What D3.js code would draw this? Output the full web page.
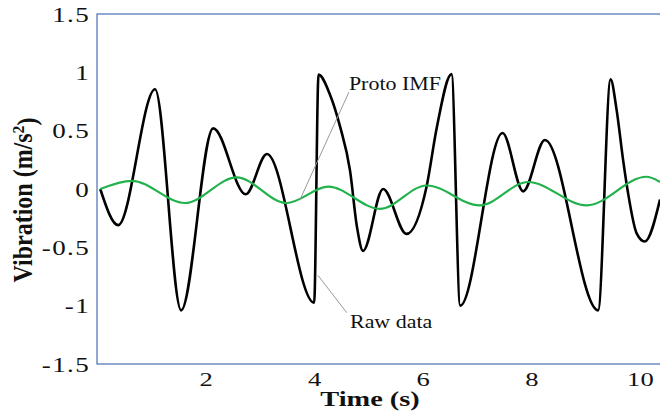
<!DOCTYPE html>
<html lang="en">
<head>
  <meta charset="UTF-8">
  <title>Raw data and proto IMF</title>
  <script src="https://d3js.org/d3.v7.min.js"></script>
  <style>
    body { margin: 0; background: #fff; }
    text { font-family: "Liberation Serif", "Times New Roman", serif; fill: #111; }
  </style>
</head>
<body>
  <div id="chart"></div>
  <script>
    const width = 660;
    const height = 419;

    // raw vibration signal (time in s, value in m/s^2)
    const rawTime  = [0.06, 0.39, 1.07, 1.55, 2.14, 2.74, 3.13, 4.00, 4.08, 4.29, 4.48, 4.66, 4.79, 4.90,
                      5.27, 5.70, 6.07, 6.26, 6.53, 6.69, 7.47, 7.85, 8.25, 9.23, 9.46, 9.57, 9.69, 9.78,
                      9.94, 10.09, 10.37];
    const rawValue = [0, -0.31, 0.855, -1.04, 0.52, -0.045, 0.30, -0.975, 0.98, 0.81, 0.53, 0.16, -0.33, -0.53,
                      0.0, -0.385, 0.02, 0.53, 0.985, -1.0, 0.48, -0.02, 0.42, -1.04, 0.94, 0.68, 0.25, -0.03,
                      -0.38, -0.45, -0.09];

    // proto IMF (green)
    const imfTime  = [0.06, 0.64, 1.62, 2.57, 3.49, 4.26, 5.21, 6.07, 7.05, 7.94, 9.02, 10.12, 10.37];
    const imfValue = [0.0, 0.07, -0.12, 0.10, -0.12, 0.02, -0.17, 0.03, -0.14, 0.06, -0.14, 0.105, 0.06];

    const xTicks = [2, 4, 6, 8, 10];
    const yTicks = [-1.5, -1, -0.5, 0, 0.5, 1, 1.5];

    const x = d3.scaleLinear().domain([0, 10.37]).range([97, 660]);
    const y = d3.scaleLinear().domain([-1.5, 1.5]).range([364, 14]);

    const svg = d3.select("#chart").append("svg")
      .attr("width", width).attr("height", height);

    svg.append("clipPath").attr("id", "plot")
      .append("rect").attr("x", 97).attr("y", 14).attr("width", 563).attr("height", 350);

    // frame (right side falls outside the window)
    svg.append("rect")
      .attr("x", x(0)).attr("y", y(1.5))
      .attr("width", 580).attr("height", y(-1.5) - y(1.5))
      .attr("fill", "none").attr("stroke", "#4a6fb5").attr("stroke-width", 1.2);

    // axes
    const sx = 1.35;
    const yAxis = svg.append("g").attr("transform", `translate(${x(0)},0)`)
      .call(d3.axisLeft(y).tickValues(yTicks).tickSize(0).tickPadding(0)
        .tickFormat(d => String(d)));
    yAxis.select(".domain").remove();
    yAxis.selectAll("text")
      .attr("x", -7 / sx).attr("dy", "0.35em")
      .attr("transform", `scale(${sx},1)`)
      .style("letter-spacing", "1px")
      .style("font-size", "20px").style("font-family", "Liberation Serif");

    const xAxis = svg.append("g").attr("transform", `translate(0,${y(-1.5)})`)
      .call(d3.axisBottom(x).tickValues(xTicks).tickSize(0).tickPadding(9));
    xAxis.select(".domain").remove();
    xAxis.selectAll("text")
      .attr("transform", `scale(1.4,1)`)
      .style("font-size", "19px").style("font-family", "Liberation Serif");

    // axis titles
    svg.append("text")
      .attr("transform", "translate(370,406) scale(1.35,1)")
      .attr("text-anchor", "middle")
      .style("font-size", "21px").style("font-weight", "bold")
      .text("Time (s)");

    const yt = svg.append("text")
      .attr("transform", "translate(32,200) rotate(-90) scale(1.2,1.35)")
      .attr("text-anchor", "middle")
      .style("font-size", "20px").style("font-weight", "bold");
    yt.append("tspan").text("Vibration (m/s");
    yt.append("tspan").attr("dy", "-0.45em").style("font-size", "13px").text("2");
    yt.append("tspan").attr("dy", "0.45em").text(")");

    // curves
    const line = d3.line().curve(d3.curveMonotoneX)
      .x(d => x(d[0])).y(d => y(d[1]));

    const plot = svg.append("g").attr("clip-path", "url(#plot)");
    plot.append("path")
      .datum(rawTime.map((t, i) => [t, rawValue[i]]))
      .attr("d", line)
      .attr("fill", "none").attr("stroke", "#000").attr("stroke-width", 2.6);
    plot.append("path")
      .datum(imfTime.map((t, i) => [t, imfValue[i]]))
      .attr("d", line)
      .attr("fill", "none").attr("stroke", "#22b24c").attr("stroke-width", 2.2);

    // annotations with leader lines
    svg.append("line")
      .attr("x1", x(4.64)).attr("y1", y(0.83)).attr("x2", x(3.74)).attr("y2", y(-0.09))
      .attr("stroke", "#999").attr("stroke-width", 1);
    svg.append("line")
      .attr("x1", x(4.07)).attr("y1", y(-0.74)).attr("x2", x(4.60)).attr("y2", y(-1.06))
      .attr("stroke", "#999").attr("stroke-width", 1);

    svg.append("text")
      .attr("transform", `translate(${x(4.64)},${y(0.845)}) scale(1.22,1)`)
      .style("font-size", "18px").text("Proto IMF");
    svg.append("text")
      .attr("transform", `translate(${x(4.66)},${y(-1.195)}) scale(1.22,1)`)
      .style("font-size", "18px").text("Raw data");
  </script>
</body>
</html>
